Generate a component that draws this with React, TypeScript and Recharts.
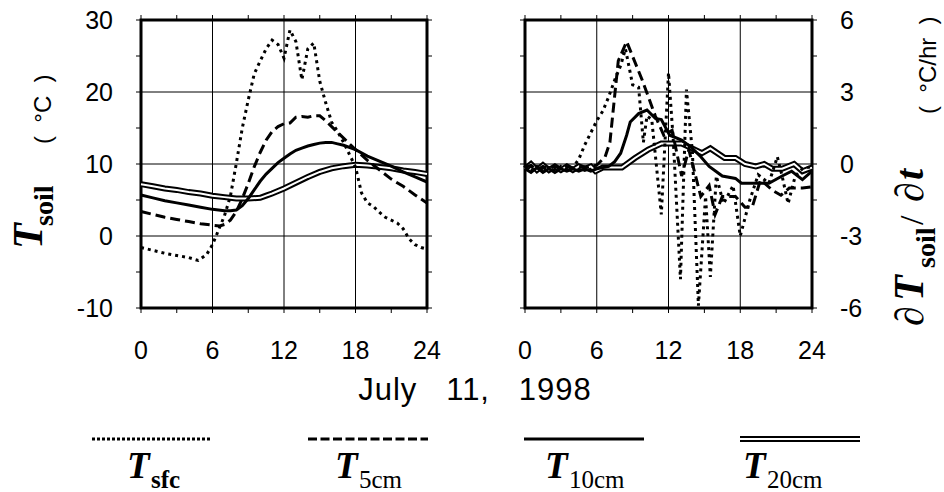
import React from "react";
import {
  LineChart,
  Line,
  XAxis,
  YAxis,
  ReferenceLine,
  ReferenceArea,
} from "recharts";

// hour, value pairs
const sfcTemp = [
  [0, -1.6], [1, -2.0], [2, -2.4], [3, -2.7], [4, -3.0], [4.8, -3.4], [5.5, -2.6],
  [6, -1.2], [6.5, 0.8], [7, 2.8], [7.5, 5.5], [8, 10.1], [8.5, 15], [9, 18.9],
  [9.5, 22.5], [10, 24.3], [10.5, 26], [11, 27.2], [11.5, 26.6], [12, 24.7],
  [12.5, 28.6], [13, 27], [13.5, 21.7], [14, 26], [14.5, 26.8], [15, 21.5],
  [15.5, 18.5], [16, 15.8], [16.5, 14.5], [17, 13], [17.5, 11.3], [18, 9.6],
  [18.5, 6], [19, 4.6], [19.5, 4.1], [20, 3.3], [20.5, 2.6], [21, 2.2],
  [21.5, 1.8], [22, 1.0], [22.5, -0.4], [23, -1.2], [23.5, -1.6], [24, -1.8],
];
const cm5Temp = [
  [0, 3.4], [1, 3.0], [2, 2.6], [3, 2.3], [4, 2.0], [5, 1.7], [6, 1.5], [6.6, 1.4],
  [7, 1.6], [7.5, 2.2], [8, 3.4], [8.5, 5.2], [9, 7.3], [9.5, 9.6], [10, 11.6],
  [10.5, 13.3], [11, 14.5], [11.5, 15.2], [12, 15.6], [12.5, 15.7], [13, 16.5],
  [13.5, 16.6], [14, 16.5], [14.5, 16.7], [15, 16.7], [15.5, 16], [16, 15.2],
  [17, 13.6], [18, 12.0], [19, 10.5], [20, 9.2], [21, 7.9], [22, 6.9], [23, 5.7],
  [24, 4.6],
];
const cm10Temp = [
  [0, 5.7], [1, 5.3], [2, 4.9], [3, 4.6], [4, 4.3], [5, 4.0], [6, 3.7], [7, 3.5],
  [7.5, 3.5], [8, 3.6], [8.5, 4.2], [9, 5.2], [9.5, 6.4], [10, 7.6], [10.5, 8.6],
  [11, 9.4], [11.5, 10.2], [12, 10.8], [12.5, 11.4], [13, 11.9], [13.5, 12.2],
  [14, 12.5], [14.5, 12.7], [15, 12.9], [15.5, 13.0], [16, 13.0], [16.5, 12.8],
  [17, 12.6], [18, 12.0], [19, 11.1], [20, 10.4], [21, 9.7], [22, 8.9], [23, 8.2],
  [24, 7.5],
];
const cm20Temp = [
  [0, 7.2], [1, 6.9], [2, 6.6], [3, 6.4], [4, 6.1], [5, 5.9], [6, 5.6], [7, 5.4],
  [8, 5.2], [9, 5.2], [10, 5.3], [10.5, 5.6], [11, 5.9], [12, 6.6], [13, 7.4],
  [14, 8.2], [15, 8.9], [16, 9.4], [17, 9.7], [18, 9.9], [19, 9.8], [20, 9.6],
  [21, 9.4], [22, 9.1], [23, 8.9], [24, 8.6],
];

const sfcRate = [
  [0, -0.1], [0.5, -0.3], [1, -0.1], [1.5, -0.3], [2, -0.15], [2.5, -0.3], [3, -0.1],
  [3.5, -0.25], [4, -0.15], [4.5, 0.2], [5, 0.8], [5.5, 1.3], [6, 1.8], [6.5, 2.2],
  [7, 2.8], [7.5, 3.5], [8, 4.1], [8.4, 4.8], [9, 3.3], [9.5, 3.2], [9.9, 0.9],
  [10.2, 2.0], [10.6, 1.85], [11.4, -2.1], [12, 3.8], [12.4, 1.0], [13, -4.8],
  [13.5, 3.1], [14, 0.5], [14.5, -5.9], [15.1, -1.35], [15.5, -4.7], [16, -0.5],
  [16.6, -1.65], [17.4, -0.9], [18, -3.0], [18.8, -1.5], [19.5, -0.45], [20.4, -0.8],
  [21.1, 0.3], [21.5, -0.5], [22, -1.65], [22.6, -0.5], [23.2, -0.2], [24, -0.1],
];
const cm5Rate = [
  [0, -0.15], [0.5, -0.05], [1, -0.25], [1.5, -0.1], [2, -0.2], [2.5, -0.1], [3, -0.2],
  [3.5, -0.1], [4, -0.2], [4.5, -0.1], [5, -0.15], [5.5, -0.1], [6, -0.05], [6.7, 0.3],
  [7.1, 0.9], [7.8, 4.3], [8.5, 5.1], [9.8, 3.5], [10.9, 2.0], [11.6, 1.2], [12.3, 1.4],
  [13.1, -0.5], [13.7, 0.6], [14.7, -1.35], [15.4, -0.9], [15.9, -2.1], [16.5, -1.35],
  [17.6, -1.35], [18.4, -1.8], [19, -1.8], [19.7, -0.65], [20.7, -1.1], [21.4, -1.3],
  [22.1, -1.0], [23.2, -1.0], [24, -0.95],
];
const cm10Rate = [
  [0, -0.2], [0.5, -0.35], [1, -0.15], [1.5, -0.35], [2, -0.2], [2.5, -0.35], [3, -0.2],
  [3.5, -0.3], [4, -0.2], [4.5, -0.3], [5, -0.2], [5.5, -0.3], [6, -0.2], [7, -0.1],
  [7.5, 0.1], [8, 0.45], [8.5, 1.2], [8.8, 1.75], [9.5, 2.1], [10.2, 2.25], [10.9, 1.9],
  [11.4, 1.85], [12.1, 1.2], [13.1, 1.0], [14, 0.65], [14.7, 0.3], [15.4, -0.1],
  [16.5, -0.5], [17.6, -0.6], [18.1, -0.8], [19.3, -0.8], [20.4, -0.8], [21.5, -0.5],
  [22.3, -0.3], [23.2, -0.65], [24, -0.3],
];
const cm20Rate = [
  [0, -0.2], [0.5, 0.0], [1, -0.25], [1.5, -0.05], [2, -0.25], [2.5, -0.1], [3, -0.25],
  [3.5, -0.1], [4, -0.25], [4.5, -0.1], [5, -0.2], [5.5, -0.1], [5.9, -0.3], [6.5, -0.15],
  [7.5, -0.15], [8.1, -0.15], [9.2, 0.25], [10.3, 0.6], [11.4, 0.85], [13.1, 0.85],
  [14.2, 0.6], [14.8, 0.45], [15.5, 0.65], [16.7, 0.25], [17.6, 0.25], [18.4, 0.0],
  [19.3, -0.1], [20, 0.0], [20.7, -0.2], [21.5, -0.2], [22.5, 0.0], [23.2, -0.3],
  [24, -0.15],
];

const hourTicks = [0, 3, 6, 9, 12, 15, 18, 21, 24];
const tempTicks = [-10, -5, 0, 5, 10, 15, 20, 25, 30];
const rateTicks = [-6, -4.5, -3, -1.5, 0, 1.5, 3, 4.5, 6];

const toRows = (pts: number[][]) => pts.map(([h, v]) => ({ h, v }));

const sans = "'Liberation Sans', Arial, sans-serif";
const serif = "'Liberation Serif', 'Times New Roman', serif";
const tickStyle = { fill: "#000", fontSize: 25, fontFamily: sans };
const blank = () => "";

function renderLines(sfc: number[][], c5: number[][], c10: number[][], c20: number[][]) {
  return [
    // invisible copy so the top/right axes get drawn
    <Line key="ghost" xAxisId="t" yAxisId="r" data={toRows(c20)} dataKey="v" stroke="none"
      dot={false} isAnimationActive={false} />,
    <Line key="c20a" data={toRows(c20)} dataKey="v" stroke="#000" strokeWidth={6}
      dot={false} isAnimationActive={false} />,
    <Line key="c20b" data={toRows(c20)} dataKey="v" stroke="#fff" strokeWidth={2}
      dot={false} isAnimationActive={false} />,
    <Line key="c10" data={toRows(c10)} dataKey="v" stroke="#000" strokeWidth={3}
      dot={false} isAnimationActive={false} />,
    <Line key="c5" data={toRows(c5)} dataKey="v" stroke="#000" strokeWidth={3}
      strokeDasharray="10 5" dot={false} isAnimationActive={false} />,
    <Line key="sfc" data={toRows(sfc)} dataKey="v" stroke="#000" strokeWidth={3}
      strokeDasharray="3 4" dot={false} isAnimationActive={false} />,
  ];
}

function TempPanel() {
  return (
    <LineChart width={470} height={380} margin={{ top: 10, right: 23, bottom: 32, left: 101 }}>
      <XAxis dataKey="h" type="number" domain={[0, 24]} ticks={hourTicks} height={40}
        tickSize={5} tickMargin={28} axisLine={false} tickLine={{ stroke: "#000" }}
        tick={tickStyle} tickFormatter={(v) => (v % 6 === 0 ? String(v) : "")} />
      <XAxis xAxisId="t" dataKey="h" orientation="top" type="number" domain={[0, 24]}
        ticks={hourTicks} height={10} tickSize={5} axisLine={false}
        tickLine={{ stroke: "#000" }} tick={tickStyle} tickFormatter={blank} />
      <YAxis type="number" domain={[-10, 30]} ticks={tempTicks} width={40} tickSize={5}
        tickMargin={23} axisLine={false} tickLine={{ stroke: "#000" }} tick={tickStyle}
        tickFormatter={(v) => (v % 10 === 0 ? String(v) : "")} />
      <YAxis yAxisId="r" orientation="right" type="number" domain={[-10, 30]} ticks={tempTicks}
        width={20} tickSize={5} axisLine={false} tickLine={{ stroke: "#000" }}
        tick={tickStyle} tickFormatter={blank} />
      {[6, 12, 18].map((x) => (
        <ReferenceLine key={"x" + x} x={x} stroke="#000" strokeWidth={1} />
      ))}
      {[0, 10, 20].map((y) => (
        <ReferenceLine key={"y" + y} y={y} stroke="#000" strokeWidth={1} />
      ))}
      {renderLines(sfcTemp, cm5Temp, cm10Temp, cm20Temp)}
      <ReferenceArea x1={0} x2={24} y1={-10} y2={30} fill="none" fillOpacity={0}
        stroke="#000" strokeWidth={3} ifOverflow="visible" />
    </LineChart>
  );
}

function RatePanel() {
  return (
    <LineChart width={474} height={380} margin={{ top: 10, right: 72, bottom: 32, left: 35 }}>
      <XAxis dataKey="h" type="number" domain={[0, 24]} ticks={hourTicks} height={40}
        tickSize={5} tickMargin={28} axisLine={false} tickLine={{ stroke: "#000" }}
        tick={tickStyle} tickFormatter={(v) => (v % 6 === 0 ? String(v) : "")} />
      <XAxis xAxisId="t" dataKey="h" orientation="top" type="number" domain={[0, 24]}
        ticks={hourTicks} height={10} tickSize={5} axisLine={false}
        tickLine={{ stroke: "#000" }} tick={tickStyle} tickFormatter={blank} />
      <YAxis type="number" domain={[-6, 6]} ticks={rateTicks} width={20} tickSize={5}
        axisLine={false} tickLine={{ stroke: "#000" }} tick={tickStyle} tickFormatter={blank}
        allowDataOverflow />
      <YAxis yAxisId="r" orientation="right" type="number" domain={[-6, 6]} ticks={rateTicks}
        width={60} tickSize={5} tickMargin={23} axisLine={false} tickLine={{ stroke: "#000" }}
        tick={tickStyle} tickFormatter={(v) => (v % 3 === 0 ? String(v) : "")} />
      {[6, 12, 18].map((x) => (
        <ReferenceLine key={"x" + x} x={x} stroke="#000" strokeWidth={1} />
      ))}
      {[-3, 0, 3].map((y) => (
        <ReferenceLine key={"y" + y} y={y} stroke="#000" strokeWidth={1} />
      ))}
      {renderLines(sfcRate, cm5Rate, cm10Rate, cm20Rate)}
      <ReferenceArea x1={0} x2={24} y1={-6} y2={6} fill="none" fillOpacity={0}
        stroke="#000" strokeWidth={3} ifOverflow="visible" />
    </LineChart>
  );
}

function Rot({ x, y, size, family, weight, italic, children }: any) {
  return (
    <text transform={`translate(${x},${y}) rotate(-90)`} fontSize={size} fontFamily={family}
      fontWeight={weight || "normal"} fontStyle={italic ? "italic" : "normal"} fill="#000"
      xmlSpace="preserve" style={{ whiteSpace: "pre" }}>
      {children}
    </text>
  );
}

function Overlay() {
  const legend = [
    { x1: 92, x2: 212, dash: "3 2", tx: 127, sub: "sfc", bold: true },
    { x1: 308, x2: 428, dash: "9 3.5", tx: 335, sub: "5cm", bold: false },
    { x1: 524, x2: 644, dash: undefined, tx: 545, sub: "10cm", bold: false },
    { x1: 740, x2: 860, dash: undefined, tx: 743, sub: "20cm", bold: false, dbl: true },
  ];
  return (
    <svg width={944} height={492} style={{ position: "absolute", left: 0, top: 0 }}>
      <Rot x={42} y={249} size={42} family={serif} weight="bold" italic>T</Rot>
      <Rot x={53} y={226} size={28} family={serif} weight="bold">soil</Rot>
      <Rot x={51} y={144} size={24} family={sans}>(  °C  )</Rot>

      <Rot x={923} y={326} size={40} family={serif}>∂</Rot>
      <Rot x={923} y={301} size={42} family={serif} weight="bold" italic>T</Rot>
      <Rot x={935} y={268} size={28} family={serif} weight="bold">soil</Rot>
      <Rot x={923} y={225} size={34} family={serif}>/</Rot>
      <Rot x={923} y={202} size={40} family={serif}>∂</Rot>
      <Rot x={923} y={180} size={40} family={serif} weight="bold" italic>t</Rot>
      <Rot x={936} y={114} size={24} family={sans}>(  °C/hr  )</Rot>

      <text x={475} y={400} textAnchor="middle" fontSize={31} fontFamily={sans}
        letterSpacing={1} xmlSpace="preserve" style={{ whiteSpace: "pre" }}
        fill="#000">July   11,   1998</text>

      {legend.map((l) => (
        <g key={l.sub}>
          {l.dbl ? (
            <>
              <line x1={l.x1} x2={l.x2} y1={439} y2={439} stroke="#000" strokeWidth={6} />
              <line x1={l.x1} x2={l.x2} y1={439} y2={439} stroke="#fff" strokeWidth={2} />
            </>
          ) : (
            <line x1={l.x1} x2={l.x2} y1={439} y2={439} stroke="#000" strokeWidth={3}
              strokeDasharray={l.dash} />
          )}
          <text x={l.tx} y={478} fontSize={37} fontFamily={serif} fontWeight="bold"
            fontStyle="italic" fill="#000">T</text>
          <text x={l.tx + 24} y={488} fontSize={25} fontFamily={serif}
            fontWeight={l.bold ? "bold" : "normal"} fill="#000">{l.sub}</text>
        </g>
      ))}
    </svg>
  );
}

export default function App() {
  return (
    <div style={{ position: "absolute", left: 0, top: 0, width: 944, height: 492, background: "#fff" }}>
      <div style={{ position: "absolute", left: 0, top: 0 }}>
        <TempPanel />
      </div>
      <div style={{ position: "absolute", left: 470, top: 0 }}>
        <RatePanel />
      </div>
      <Overlay />
    </div>
  );
}
